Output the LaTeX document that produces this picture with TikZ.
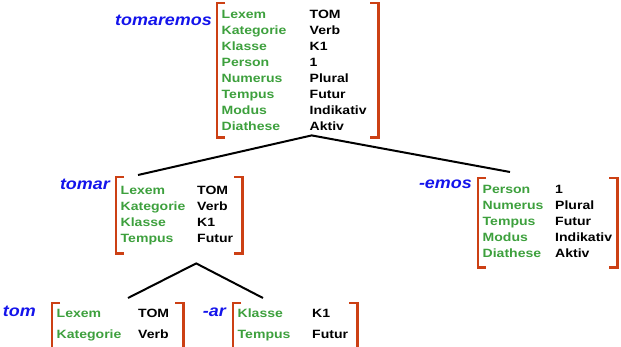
\documentclass[tikz,border=0pt]{standalone}
\usepackage{fontspec}
\setmainfont{Liberation Sans}[FakeStretch=1.17]
\newfontfamily\wordfont{Liberation Sans}[FakeStretch=1.12]
\usetikzlibrary{positioning}
\definecolor{featgreen}{RGB}{61,160,61}
\definecolor{bracketred}{RGB}{204,64,20}
\definecolor{wordblue}{RGB}{20,20,235}
\tikzstyle{avm} = [inner xsep=4.5pt, inner ysep=3pt, align=left, anchor=north west, font=\fontsize{12}{16}\selectfont\bfseries]
\tikzstyle{word} = [inner sep=0pt, anchor=base east, text=wordblue, font=\wordfont\fontsize{16}{18}\selectfont\bfseries\itshape]
\tikzstyle{bracketline} = [draw=bracketred, line width=2.5pt]
\tikzstyle{branch} = [draw=black, line width=2pt]
\newcommand{\feat}[1]{\textcolor{featgreen}{#1}}
\newcommand{\avmbrackets}[1]{%
    \draw [bracketline] ([xshift=8pt]#1.north west) -- (#1.north west) -- (#1.south west) -- ([xshift=8pt]#1.south west);
    \draw [bracketline] ([xshift=-8pt]#1.north east) -- (#1.north east) -- (#1.south east) -- ([xshift=-8pt]#1.south east);}

\begin{document}
\begin{tikzpicture}[x=1pt, y=-1pt]
    \clip (0,0) rectangle (621,346);
    \node (avmTomaremos) [avm, text width=152pt, inner ysep=1.5pt] at (217,3) {\begin{tabular}{@{}p{88pt}@{}l@{}}
        \noalign{\vskip 3pt}
        \feat{Lexem} & TOM \\ \feat{Kategorie} & Verb \\ \feat{Klasse} & K1 \\ \feat{Person} & 1 \\
        \feat{Numerus} & Plural \\ \feat{Tempus} & Futur \\ \feat{Modus} & Indikativ \\ \feat{Diathese} & Aktiv
        \end{tabular}};
    \node (avmTomar) [avm, text width=117pt, minimum height=76pt] at (116,177) {\begin{tabular}{@{}p{76.5pt}@{}l@{}}
        \feat{Lexem} & TOM \\ \feat{Kategorie} & Verb \\ \feat{Klasse} & K1 \\ \feat{Tempus} & Futur
        \end{tabular}};
    \node (avmEmos) [avm, text width=130pt, minimum height=89pt] at (478,178) {\begin{tabular}{@{}p{72.5pt}@{}l@{}}
        \feat{Person} & 1 \\ \feat{Numerus} & Plural \\ \feat{Tempus} & Futur \\ \feat{Modus} & Indikativ \\ \feat{Diathese} & Aktiv
        \end{tabular}};
    \node (avmTom) [avm, text width=122pt] at (52,303) {\begin{tabular}{@{}p{81.5pt}@{}l@{}}
        \feat{Lexem} & TOM \\[5pt] \feat{Kategorie} & Verb \\[12pt]
        \end{tabular}};
    \node (avmAr) [avm, text width=115pt] at (233,303) {\begin{tabular}{@{}p{74.5pt}@{}l@{}}
        \feat{Klasse} & K1 \\[5pt] \feat{Tempus} & Futur \\[12pt]
        \end{tabular}};
    \node (wTomaremos) [word] at (212,25) {tomaremos};
    \node (wTomar) [word] at (110,189) {tomar};
    \node (wEmos) [word] at (472,188) {-emos};
    \node (wTom) [word] at (36,316) {tom};
    \node (wAr) [word] at (226,316) {-ar};
    \foreach \avmName in {avmTomaremos, avmTomar, avmEmos, avmTom, avmAr} {\avmbrackets{\avmName}}
    \coordinate (upJoin) at ([shift={(14,-2)}]avmTomaremos.south);
    \coordinate (upLeft) at ([shift={(22,-2)}]avmTomar.north west);
    \coordinate (upRight) at ([shift={(32,-6)}]avmEmos.north west);
    \coordinate (lowJoin) at ([shift={(17,10)}]avmTomar.south);
    \coordinate (lowLeft) at ([shift={(76,-5)}]avmTom.north west);
    \coordinate (lowRight) at ([shift={(30,-5)}]avmAr.north west);
    \draw [branch] (upLeft) -- (upJoin) -- (upRight);
    \draw [branch] (lowLeft) -- (lowJoin) -- (lowRight);
\end{tikzpicture}
\end{document}
